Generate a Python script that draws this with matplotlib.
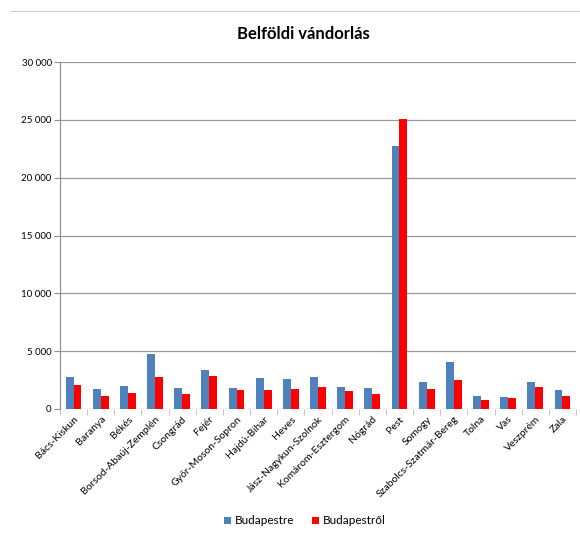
import matplotlib.pyplot as plt
import numpy as np
from matplotlib.ticker import FuncFormatter

# Megyék (categories)
COUNTIES = ["Bács-Kiskun", "Baranya", "Békés", "Borsod-Abaúj-Zemplén", "Csongrád",
            "Fejér", "Győr-Moson-Sopron", "Hajdú-Bihar", "Heves", "Jász-Nagykun-Szolnok",
            "Komárom-Esztergom", "Nógrád", "Pest", "Somogy", "Szabolcs-Szatmár-Bereg",
            "Tolna", "Vas", "Veszprém", "Zala"]

# Values
TO_BUDAPEST = [2790, 1750, 1960, 4730, 1840, 3340, 1810, 2710, 2590, 2770,
               1870, 1840, 22760, 2300, 4060, 1100, 1060, 2300, 1670]
FROM_BUDAPEST = [2050, 1150, 1360, 2740, 1270, 2820, 1640, 1670, 1750, 1900,
                 1530, 1300, 25060, 1750, 2500, 780, 920, 1930, 1150]

Y_TICKS = [0, 5000, 10000, 15000, 20000, 25000, 30000]

plt.rcParams['font.family'] = ['Lato', 'DejaVu Sans']

fig = plt.figure(figsize=(5.8, 5.36), dpi=100)
ax = fig.add_axes([60 / 580, 127 / 536, 516 / 580, 347 / 536])

x = np.arange(len(COUNTIES))
width = 0.29
ax.bar(x - width / 2, TO_BUDAPEST, width, color="#4F81BD", label="Budapestre", zorder=3)
ax.bar(x + width / 2, FROM_BUDAPEST, width, color="#FF0000", label="Budapestről", zorder=3)

ax.set_xlim(-0.5, len(COUNTIES) - 0.5)
ax.set_ylim(0, 30000)
ax.set_yticks(Y_TICKS)
ax.yaxis.set_major_formatter(FuncFormatter(lambda v, p: f"{int(v):,}".replace(",", " ")))
ax.tick_params(axis="y", length=4, color="#8c8c8c", labelsize=7, pad=2)

ax.set_xticks(x)
ax.set_xticklabels(COUNTIES, rotation=45, ha="right", rotation_mode="anchor", fontsize=7.5)
ax.tick_params(axis="x", length=0, pad=4)
ax.set_xticks(np.arange(len(COUNTIES) + 1) - 0.5, minor=True)
ax.tick_params(axis="x", which="minor", length=4, color="#bbbbbb")

ax.grid(axis="y", color="#999999", linewidth=0.9, zorder=0)
for side in ["top", "right", "bottom"]:
    ax.spines[side].set_visible(False)
ax.spines["left"].set_color("#8c8c8c")

fig.text(303 / 580, 1 - 34 / 536, "Belföldi vándorlás", ha="center", va="center",
         fontsize=12, fontweight="bold")

# thin line on top of the chart frame
fig.add_artist(plt.Line2D([11 / 580, 1.0], [1 - 11 / 536, 1 - 11 / 536],
                          color="#cccccc", linewidth=0.8))

fig.legend(loc="center", bbox_to_anchor=(305 / 580, 1 - 521 / 536), ncol=2,
           frameon=False, fontsize=8.5, handlelength=0.6, handleheight=0.6,
           handletextpad=0.3, columnspacing=1.5)

fig.savefig("out.png", dpi=100)
